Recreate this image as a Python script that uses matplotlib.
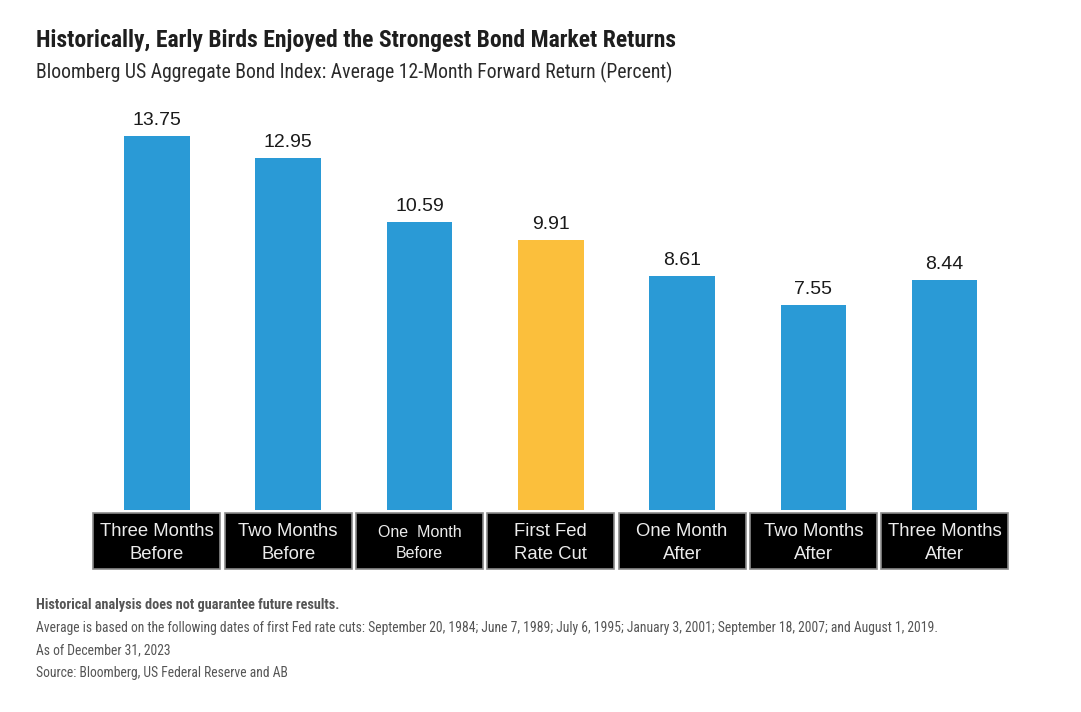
import matplotlib.pyplot as plt
from matplotlib.patches import Rectangle
from matplotlib import font_manager

# Données du graphique
labels = [
    "Three Months\nBefore", "Two Months\nBefore", "One  Month\nBefore",
    "First Fed\nRate Cut", "One Month\nAfter", "Two Months\nAfter",
    "Three Months\nAfter",
]
returns = [13.75, 12.95, 10.59, 9.91, 8.61, 7.55, 8.44]
highlight = "First Fed\nRate Cut"

title = "Historically, Early Birds Enjoyed the Strongest Bond Market Returns"
subtitle = "Bloomberg US Aggregate Bond Index: Average 12-Month Forward Return (Percent)"
notes = [
    "Average is based on the following dates of first Fed rate cuts: September 20, 1984; "
    "June 7, 1989; July 6, 1995; January 3, 2001; September 18, 2007; and August 1, 2019.",
    "As of December 31, 2023",
    "Source: Bloomberg, US Federal Reserve and AB",
]
disclaimer = "Historical analysis does not guarantee future results."

BLUE = "#2a9ad6"
YELLOW = "#fbbf3c"

W, H = 1081, 712


def pick_font(candidates):
    names = {f.name for f in font_manager.fontManager.ttflist}
    for c in candidates:
        if c in names:
            return c
    return "DejaVu Sans"


narrow = pick_font(["Liberation Sans Narrow", "Roboto Condensed", "Roboto"])
sans = pick_font(["Liberation Sans", "Arial", "DejaVu Sans"])

fig = plt.figure(figsize=(W / 100, H / 100), dpi=100)

# Axes placée en pixels : base des barres à y=510, 27.2 px par point
px_unit = 27.2
y_base, y_top, y_bot = 510, 100, 575
left, right = 91.3, 1010.3
ax = fig.add_axes([left / W, 1 - y_bot / H, (right - left) / W, (y_bot - y_top) / H])
ax.set_xlim(-0.5, len(returns) - 0.5)
ax.set_ylim(-(y_bot - y_base) / px_unit, (y_base - y_top) / px_unit)
ax.axis("off")

x = list(range(len(returns)))
colors = [YELLOW if lab == highlight else BLUE for lab in labels]
bars = ax.bar(x, returns, width=0.5, color=colors, zorder=2)

for b, v in zip(bars, returns):
    ax.annotate(f"{v:.2f}", (b.get_x() + b.get_width() / 2, v),
                xytext=(0, 15.5), textcoords="offset pixels",
                ha="center", va="center", fontsize=14, color="#1a1a1a",
                family=sans)

# Boîtes noires des étiquettes
box_top = -3 / px_unit
box_h = 56 / px_unit
for i, lab in enumerate(labels):
    ax.add_patch(Rectangle((i - 0.484, box_top - box_h), 0.968, box_h,
                           facecolor="black", edgecolor="#8a8a8a", lw=1.2,
                           clip_on=False, zorder=2))
    fs = 11.5 if lab.startswith("One  Month") else 13.3
    ax.text(i, box_top - box_h / 2 - 2 / px_unit, lab, ha="center", va="center",
            fontsize=fs, color="#ececec", family=sans,
            linespacing=1.42 if fs > 12 else 1.58, zorder=3)

# Titres
fig.text(36 / W, 1 - 47 / H, title, fontsize=17, fontweight="bold",
         color="#1e1e1e", family=narrow, va="baseline")
fig.text(36 / W, 1 - 78 / H, subtitle, fontsize=14.2, color="#2a2a2a",
         family=narrow, va="baseline")

# Notes de bas de page
fig.text(36 / W, 1 - 609 / H, disclaimer, fontsize=10.3, fontweight="bold",
         color="#555555", family=narrow, va="baseline")
for k, line in enumerate(notes):
    fig.text(36 / W, 1 - (632 + 22.7 * k) / H, line, fontsize=9.8,
             color="#555555", family=narrow, va="baseline")

fig.savefig("out.png", dpi=100)
